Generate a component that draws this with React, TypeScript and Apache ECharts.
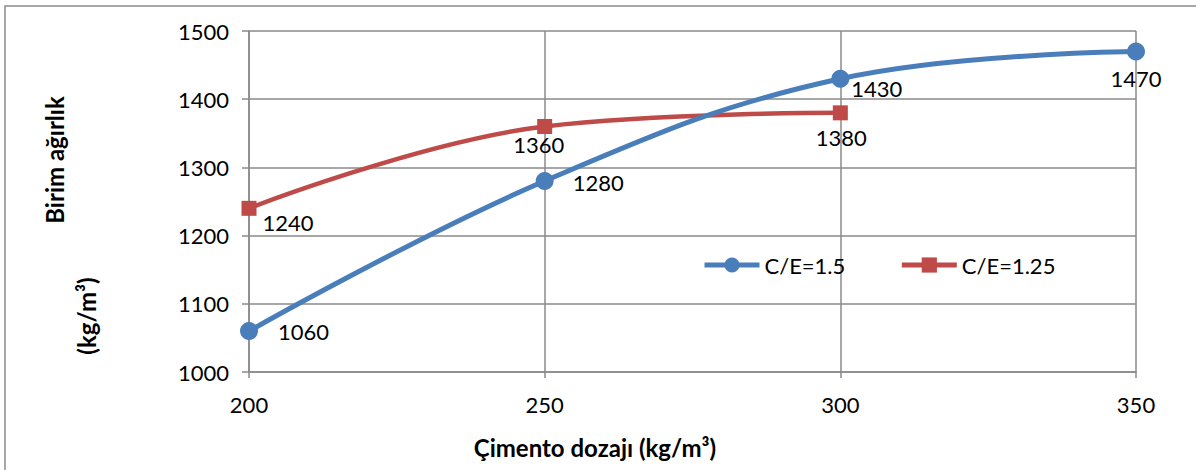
import React, { useEffect, useRef } from "react";
import * as echarts from "echarts";

const dosage = [200, 250, 300, 350];
const seriesNames = ["C/E=1.5", "C/E=1.25"];
const blueValues = [1060, 1280, 1430, 1470];
const redValues = [1240, 1360, 1380];
const yTicks = [1000, 1100, 1200, 1300, 1400, 1500];
const xTitle = "Çimento dozajı (kg/m³)";
const yTitle1 = "Birim ağırlık";
const yTitle2 = "(kg/m³)";

// label placement (style only)
const blueLabel = [
  { position: "right", distance: 20, offset: [0, 0] },
  { position: "right", distance: 19, offset: [0, 1] },
  { position: "right", distance: 2, offset: [0, 10] },
  { position: "bottom", distance: 7, offset: [0, 0] },
];
const redLabel = [
  { position: "right", distance: 6, offset: [0, 14] },
  { position: "bottom", distance: 0, offset: [-6, 0] },
  { position: "bottom", distance: 6, offset: [1, 0] },
];

const FONT = "Lato, 'Noto Sans', sans-serif";
const GRID_COLOR = "#8a8a8a";

export default function App() {
  const ref = useRef<HTMLDivElement>(null);
  useEffect(() => {
    if (!ref.current) return;
    const chart = echarts.init(ref.current, undefined, { renderer: "svg" });
    const labelStyle = { show: true, color: "#000", fontSize: 22, fontFamily: FONT };
    const titleStyle = {
      fontSize: 24,
      fontWeight: "bold",
      fontFamily: FONT,
      fill: "#000",
      align: "center",
      verticalAlign: "middle",
    };
    chart.setOption({
      animation: false,
      backgroundColor: "#fff",
      textStyle: { fontFamily: FONT },
      grid: { left: 249, right: 60, top: 31, bottom: 98, containLabel: false },
      legend: {
        left: 697,
        top: 249,
        itemWidth: 55,
        itemHeight: 19,
        itemGap: 54,
        lineStyle: { width: 5 },
        textStyle: { fontSize: 22, color: "#000", fontFamily: FONT },
        data: seriesNames,
      },
      xAxis: {
        type: "value",
        min: dosage[0],
        max: dosage[dosage.length - 1],
        interval: 50,
        axisLine: { show: true, lineStyle: { color: GRID_COLOR, width: 1.5 } },
        axisTick: { show: true, length: 6, lineStyle: { color: GRID_COLOR, width: 1.5 } },
        axisLabel: { fontSize: 22, color: "#000", margin: 21, fontFamily: FONT, formatter: (v: number) => String(v) },
        splitLine: { show: true, lineStyle: { color: GRID_COLOR, width: 1.5 } },
      },
      yAxis: {
        type: "value",
        min: yTicks[0],
        max: yTicks[yTicks.length - 1],
        interval: 100,
        axisLine: { show: true, lineStyle: { color: GRID_COLOR, width: 1.5 } },
        axisTick: { show: true, length: 7, lineStyle: { color: GRID_COLOR, width: 1.5 } },
        axisLabel: { fontSize: 22, color: "#000", margin: 20, fontFamily: FONT, formatter: (v: number) => String(v) },
        splitLine: { show: true, lineStyle: { color: GRID_COLOR, width: 1.5 } },
      },
      graphic: [
        {
          type: "rect",
          shape: { x: 5, y: 6, width: 1300, height: 600 },
          style: { fill: "none", stroke: "#8c8c8c", lineWidth: 1.5 },
          silent: true,
        },
        { type: "text", x: 595, y: 447, style: { ...titleStyle, text: xTitle } },
        { type: "text", x: 54, y: 160, rotation: Math.PI / 2, style: { ...titleStyle, text: yTitle1 } },
        { type: "text", x: 86, y: 316, rotation: Math.PI / 2, style: { ...titleStyle, text: yTitle2 } },
      ],
      series: [
        {
          name: seriesNames[0],
          type: "line",
          smooth: 0.4,
          symbol: "circle",
          symbolSize: 18,
          itemStyle: { color: "#4a7ebb" },
          lineStyle: { color: "#4a7ebb", width: 5 },
          data: blueValues.map((v, i) => ({
            value: [dosage[i], v],
            label: { ...labelStyle, ...blueLabel[i] },
          })),
          z: 3,
        },
        {
          name: seriesNames[1],
          type: "line",
          smooth: 0.4,
          symbol: "rect",
          symbolSize: 15,
          itemStyle: { color: "#be4b48" },
          lineStyle: { color: "#be4b48", width: 4.5 },
          data: redValues.map((v, i) => ({
            value: [dosage[i], v],
            label: { ...labelStyle, ...redLabel[i] },
          })),
          z: 2,
        },
      ],
    });
    return () => chart.dispose();
  }, []);
  return (
    <div
      ref={ref}
      style={{ position: "fixed", left: 0, top: 0, width: 1196, height: 470, background: "#fff" }}
    />
  );
}
